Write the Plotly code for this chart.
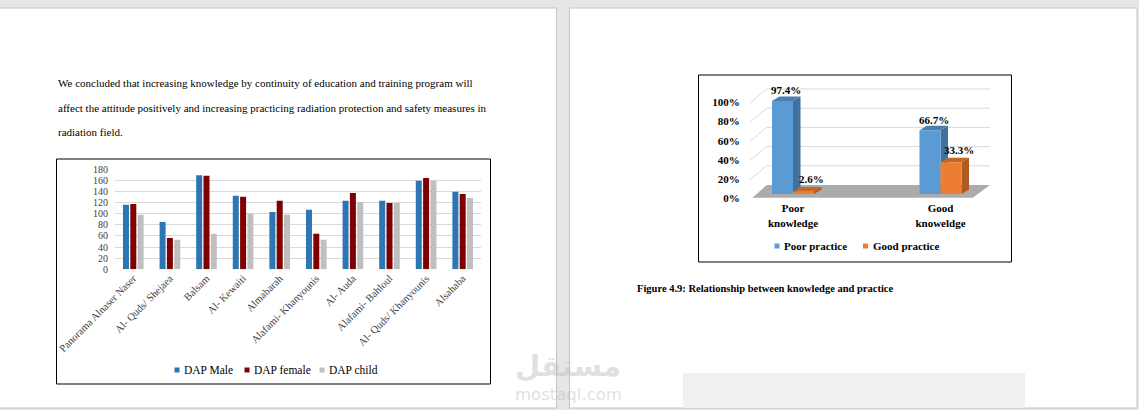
import plotly.graph_objects as go

W, H = 1139, 410

# ---------------- data: left chart ----------------
sites = ["Panorama Alnaser Naser", "Al- Quds/ Shejaea", "Balsam", "Al- Kewaiti", "Almabarah",
         "Alafami- Khanyounis", "Al- Auda", "Alafami- Bahloul", "Al- Quds/ Khanyounis", "Alsahaba"]
dap_male = [116, 85, 169, 132, 103, 107, 123, 123, 159, 139]
dap_female = [117, 56, 168, 130, 123, 64, 137, 119, 164, 135]
dap_child = [98, 53, 64, 100, 98, 53, 121, 119, 159, 128]
left_series = ["DAP Male", "DAP female", "DAP child"]
left_yticks = [0, 20, 40, 60, 80, 100, 120, 140, 160, 180]

# ---------------- data: right chart ----------------
knowledge = ["Poor<br>knowledge", "Good<br>knoweldge"]
right_series = ["Poor practice", "Good practice"]
poor_practice = [97.4, 66.7]
good_practice = [2.6, 33.3]
right_yticks = [0, 20, 40, 60, 80, 100]
right_yticktext = ["0%", "20%", "40%", "60%", "80%", "100%"]

# ---------------- helpers (pixel layout) ----------------
def xd(p0, p1):
    return [p0 / W, p1 / W]

def yd(top, bottom):
    return [1 - bottom / H, 1 - top / H]

def px(x):
    return x / W

def py(y):
    return 1 - y / H

SERIF = "Liberation Serif"
LEFT_COLORS = ["#2e75b6", "#7f0000", "#bfbfbf"]

fig = go.Figure()

# ---------- left chart traces ----------
for name, vals, col in zip(left_series, [dap_male, dap_female, dap_child], LEFT_COLORS):
    fig.add_trace(go.Bar(x=sites, y=vals, name=name, marker=dict(color=col, line=dict(width=0)),
                         xaxis="x", yaxis="y", showlegend=False, hoverinfo="skip"))

# ---------- right chart (pseudo 3-D) ----------
XC0, XS = 793.0, 147.5      # px of category 0, px per category
YC0, YS = 194.0, 0.955      # px of 0 %, px per %
BW = 21.0 / XS              # bar width in category units
DX, DY = 7.5 / XS, 4.5 / YS  # depth of the 3-D bars

def ux(p):
    return (p - XC0) / XS

def vy(p):
    return (YC0 - p) / YS

pos_right = list(range(len(knowledge)))
series_r = [(right_series[0], poor_practice, -BW, "#5b9bd5", "#41719c", "#4a7fb3", 0, 6),
            (right_series[1], good_practice, 0.0, "#ed7d31", "#ae5a21", "#c8671f", 4, 8)]

for name, vals, off, front, side, top, xs_, ys_ in series_r:
    fig.add_trace(go.Bar(x=pos_right, y=vals, name=name, width=BW, offset=off,
                         marker=dict(color=front, line=dict(width=0)),
                         xaxis="x2", yaxis="y2", showlegend=False, hoverinfo="skip"))

shapes = []
annotations = []
# page backgrounds
shapes.append(dict(type="rect", xref="paper", yref="paper", x0=px(-2), x1=px(556.5), y0=py(408), y1=py(8),
                   fillcolor="white", line=dict(color="#c4c4c4", width=1), layer="below"))
shapes.append(dict(type="rect", xref="paper", yref="paper", x0=px(569.5), x1=px(1137), y0=py(408), y1=py(8),
                   fillcolor="white", line=dict(color="#c4c4c4", width=1), layer="below"))
shapes.append(dict(type="rect", xref="paper", yref="paper", x0=px(683), x1=px(1025), y0=py(408), y1=py(373),
                   fillcolor="#f0f0f0", line=dict(width=0), layer="below"))
# chart frames
shapes.append(dict(type="rect", xref="paper", yref="paper", x0=px(56.5), x1=px(490.5), y0=py(384), y1=py(159),
                   fillcolor="rgba(0,0,0,0)", line=dict(color="black", width=1), layer="below"))
shapes.append(dict(type="rect", xref="paper", yref="paper", x0=px(698.5), x1=px(1011.5), y0=py(262), y1=py(75),
                   fillcolor="rgba(0,0,0,0)", line=dict(color="black", width=1), layer="below"))

# back-wall gridlines of the 3-D chart
for g in right_yticks[1:]:
    wy = 185 - 0.96 * g
    path = "M{:.4f},{:.4f} L{:.4f},{:.4f} L{:.4f},{:.4f}".format(
        ux(750), vy(wy + 14), ux(766.7), vy(wy), ux(990), vy(wy))
    shapes.append(dict(type="path", xref="x2", yref="y2", path=path,
                       line=dict(color="#d9d9d9", width=1), layer="below"))
# floor
floor = "M{:.4f},{:.4f} L{:.4f},{:.4f} L{:.4f},{:.4f} L{:.4f},{:.4f} Z".format(
    ux(752.3), vy(197.7), ux(972.7), vy(197.7), ux(990), vy(185), ux(766.7), vy(185))
shapes.append(dict(type="path", xref="x2", yref="y2", path=floor,
                   fillcolor="#ababab", line=dict(width=0), layer="below"))

# side and top faces of the bars
for ci in pos_right:
    for name, vals, off, front, side, top, xs_, ys_ in series_r:
        v = vals[ci]
        a = ci + off
        b = a + BW
        side_p = "M{0},{1} L{2},{3} L{2},{4} L{0},{5} Z".format(b, 0, b + DX, DY, v + DY, v)
        top_p = "M{0},{1} L{2},{3} L{4},{3} L{5},{1} Z".format(a, v, a + DX, v + DY, b + DX, b)
        shapes.append(dict(type="path", xref="x2", yref="y2", path=side_p,
                           fillcolor=side, line=dict(width=0), layer="below"))
        shapes.append(dict(type="path", xref="x2", yref="y2", path=top_p,
                           fillcolor=top, line=dict(width=0), layer="below"))

# data labels of the 3-D chart
for name, vals, off, front, side, top, xs_, ys_ in series_r:
    for ci in pos_right:
        v = vals[ci]
        annotations.append(dict(x=ci + off + BW / 2 + DX / 2, y=v + DY, xref="x2", yref="y2",
                                text="<b>{:.1f}%</b>".format(v), showarrow=False,
                                yanchor="middle", yshift=ys_, xshift=xs_,
                                font=dict(family=SERIF, size=11, color="black")))

# legends (Word-style: small square key right next to its label)
def legend_item(cx, cy, size, color, label, font):
    shapes.append(dict(type="rect", xref="paper", yref="paper",
                       x0=px(cx - size / 2), x1=px(cx + size / 2),
                       y0=py(cy + size / 2), y1=py(cy - size / 2),
                       fillcolor=color, line=dict(width=0), layer="above"))
    annotations.append(dict(x=px(cx + size / 2 + 2.5), y=py(cy), xref="paper", yref="paper",
                            text=label, showarrow=False, xanchor="left", yanchor="middle",
                            font=font))

for name, col, cx in zip(left_series, LEFT_COLORS, [177, 247, 322]):
    legend_item(cx, 370, 5, col, name, dict(family=SERIF, size=11.5, color="black"))
for (name, vals, off, front, side, top, xs_, ys_), cx in zip(series_r, [777, 865.5]):
    legend_item(cx, 246, 5, front, "<b>" + name + "</b>", dict(family=SERIF, size=11, color="black"))

# body text of the left page
body = ["We concluded that increasing knowledge by continuity of education and training program will",
        "affect the attitude positively and increasing practicing radiation protection and safety measures in",
        "radiation field."]
for i, line in enumerate(body):
    annotations.append(dict(x=px(56), y=py(83 + 24.5 * i), xref="paper", yref="paper", text=line,
                            showarrow=False, xanchor="left", yanchor="middle",
                            font=dict(family=SERIF, size=11, color="black")))

# caption
annotations.append(dict(x=px(635), y=py(288), xref="paper", yref="paper",
                        text="<b>Figure 4.9: Relationship between knowledge and practice</b>",
                        showarrow=False, xanchor="left", yanchor="middle",
                        font=dict(family=SERIF, size=10.5, color="black")))

# watermark
annotations.append(dict(x=px(568), y=py(366), xref="paper", yref="paper", text="<b>مستقل</b>",
                        showarrow=False, xanchor="center", yanchor="middle",
                        font=dict(family="DejaVu Sans", size=29, color="rgba(185,185,185,0.45)")))
annotations.append(dict(x=px(568), y=py(394), xref="paper", yref="paper", text="mostaql.com",
                        showarrow=False, xanchor="center", yanchor="middle",
                        font=dict(family="DejaVu Sans", size=16.5, color="rgba(185,185,185,0.45)")))

fig.update_layout(
    width=W, height=H, margin=dict(l=0, r=0, t=0, b=0, autoexpand=False),
    paper_bgcolor="#e6e6e6", plot_bgcolor="rgba(0,0,0,0)",
    barmode="group", bargap=0.4, bargroupgap=0.18,
    showlegend=False,
    shapes=shapes, annotations=annotations,
    xaxis=dict(domain=xd(115, 481), range=[-0.5, len(sites) - 0.5], showgrid=False, zeroline=False,
               showline=False, ticks="", tickangle=-45, automargin=False,
               tickfont=dict(family=SERIF, size=10.5, color="#404040")),
    yaxis=dict(domain=yd(169, 269.3), range=[0, 180], tickvals=left_yticks, showgrid=True,
               gridcolor="#d9d9d9", gridwidth=1, zeroline=False, showline=False, ticks="",
               ticklabelstandoff=6, automargin=False,
               tickfont=dict(family=SERIF, size=10, color="#404040")),
    xaxis2=dict(domain=xd(XC0 - 0.30 * XS, XC0 + 1.34 * XS), range=[-0.30, 1.34],
                tickvals=pos_right, ticktext=knowledge, showgrid=False, zeroline=False,
                showline=False, ticks="", anchor="y2", automargin=False,
                tickfont=dict(family=SERIF, size=11, color="black", weight="bold")),
    yaxis2=dict(domain=yd(YC0 - 112 * YS, YC0 + 6.5 * YS), range=[-6.5, 112], anchor="x2",
                tickvals=right_yticks, ticktext=right_yticktext, showgrid=False, zeroline=False,
                showline=False, ticks="", ticklabelshift=4, ticklabelstandoff=8, automargin=False,
                tickfont=dict(family=SERIF, size=11, color="black", weight="bold")),
)

fig.write_html("out.html", config={"displayModeBar": False},
               post_script="document.body.style.margin='0';document.body.style.overflow='hidden';")
